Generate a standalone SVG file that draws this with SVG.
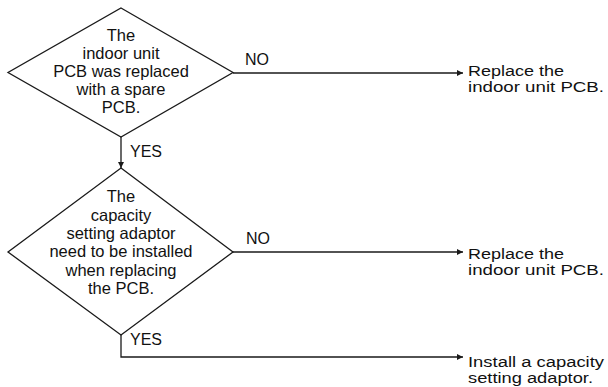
<svg xmlns="http://www.w3.org/2000/svg" width="608" height="387" viewBox="0 0 608 387">
<style>
.shape{fill:#fff;stroke:#1a1a1a;stroke-width:1.3}
.conn{fill:none;stroke:#1a1a1a;stroke-width:1.3}
text{font-family:"Liberation Sans",Arial,sans-serif;fill:#111}
.dt{font-size:16.5px;text-anchor:middle}
.rt{font-size:15.5px}
.lb{font-size:16px}
</style>
<defs>
<marker id="ah" viewBox="0 0 10 10" refX="10" refY="5" markerWidth="10" markerHeight="6" markerUnits="userSpaceOnUse" orient="auto">
<path d="M0,0 L10,5 L0,10 z" fill="#1a1a1a"/>
</marker>
</defs>
<rect width="608" height="387" fill="#fff"/>
<g id="connectors">
<line class="conn" x1="233" y1="73" x2="463" y2="73" marker-end="url(#ah)"/>
<line class="conn" x1="121" y1="137" x2="121" y2="168" marker-end="url(#ah)"/>
<line class="conn" x1="233" y1="252" x2="463" y2="252" marker-end="url(#ah)"/>
<polyline class="conn" points="121,335 121,357 463,357" marker-end="url(#ah)"/>
<text class="lb" x="245" y="65">NO</text>
<text class="lb" x="130" y="157">YES</text>
<text class="lb" x="246" y="244">NO</text>
<text class="lb" x="130" y="345">YES</text>
</g>
<g id="decision1">
<polygon class="shape" points="121,8 233,72.5 121,137 8,72.5"/>
<text class="dt" x="121" y="41">The</text>
<text class="dt" x="121" y="59">indoor unit</text>
<text class="dt" x="121" y="77">PCB was replaced</text>
<text class="dt" x="121" y="95">with a spare</text>
<text class="dt" x="121" y="113">PCB.</text>
</g>
<g id="decision2">
<polygon class="shape" points="121,168 233,252 121,335 8,252"/>
<text class="dt" x="121" y="202">The</text>
<text class="dt" x="121" y="220.5">capacity</text>
<text class="dt" x="121" y="239">setting adaptor</text>
<text class="dt" x="121" y="257">need to be installed</text>
<text class="dt" x="121" y="275.5">when replacing</text>
<text class="dt" x="121" y="294">the PCB.</text>
</g>
<g id="result1">
<text class="rt" x="468" y="75.5" textLength="96" lengthAdjust="spacingAndGlyphs">Replace the</text>
<text class="rt" x="468" y="91.5" textLength="136" lengthAdjust="spacingAndGlyphs">indoor unit PCB.</text>
</g>
<g id="result2">
<text class="rt" x="468" y="258.5" textLength="96" lengthAdjust="spacingAndGlyphs">Replace the</text>
<text class="rt" x="468" y="274.5" textLength="136" lengthAdjust="spacingAndGlyphs">indoor unit PCB.</text>
</g>
<g id="result3">
<text class="rt" x="468" y="366.5" textLength="136" lengthAdjust="spacingAndGlyphs">Install a capacity</text>
<text class="rt" x="468" y="382.5" textLength="125" lengthAdjust="spacingAndGlyphs">setting adaptor.</text>
</g>
</svg>
